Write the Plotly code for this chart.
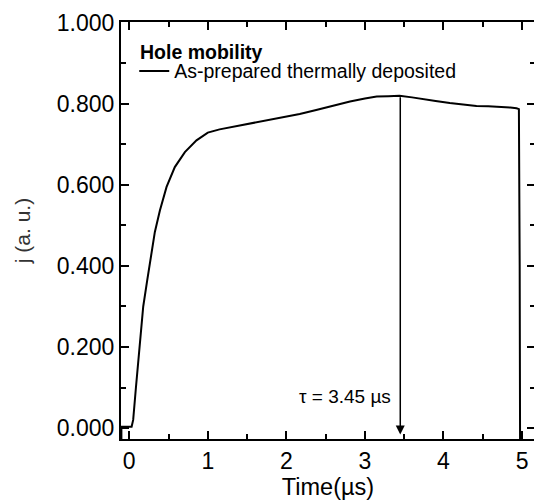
import plotly.graph_objects as go

# Data
time_us = [-0.10, -0.10, 0.03, 0.05, 0.085, 0.127, 0.178, 0.229, 0.284, 0.326, 0.39, 0.475,
           0.58, 0.708, 0.856, 1.00, 1.15, 1.36, 1.535, 1.66, 1.96, 2.17, 2.38, 2.60,
           2.81, 3.00, 3.15, 3.30, 3.44, 3.60, 3.74, 3.90, 4.08, 4.25, 4.42, 4.57,
           4.72, 4.85, 4.93, 4.96, 4.97, 4.975]
j_au = [-0.027, 0.003, 0.003, 0.02, 0.10, 0.20, 0.30, 0.365, 0.43, 0.484, 0.537, 0.595,
        0.644, 0.681, 0.710, 0.729, 0.737, 0.745, 0.752, 0.756, 0.767, 0.775, 0.785, 0.796,
        0.806, 0.813, 0.818, 0.819, 0.820, 0.816, 0.811, 0.807, 0.802, 0.798, 0.795, 0.794,
        0.793, 0.791, 0.789, 0.787, 0.40, -0.027]

series_name = "As-prepared thermally deposited"
legend_title = "Hole mobility"
tau_value = 3.45
tau_label = "τ = 3.45 µs"
x_ticks = [0, 1, 2, 3, 4, 5]
y_ticks = [0.0, 0.2, 0.4, 0.6, 0.8, 1.0]

FONT = "Liberation Sans, Arial, sans-serif"

fig = go.Figure()
fig.add_trace(go.Scatter(x=time_us, y=j_au, mode="lines", name=series_name,
                         line=dict(color="black", width=2)))

# tau arrow
fig.add_annotation(x=tau_value, y=-0.016, ax=tau_value, ay=0.820, xref="x", yref="y",
                   axref="x", ayref="y", showarrow=True, arrowhead=2, arrowsize=1.2,
                   arrowwidth=1.5, arrowcolor="black", text="")
fig.add_annotation(x=3.36, y=0.077, xref="x", yref="y", text=tau_label, showarrow=False,
                   xanchor="right", yanchor="middle", font=dict(size=19, color="black", family=FONT))

# legend title
fig.add_annotation(x=0.041, y=0.928, xref="paper", yref="paper", text="<b>" + legend_title + "</b>",
                   showarrow=False, xanchor="left", yanchor="middle",
                   font=dict(size=19.5, color="black", family=FONT))

axis_common = dict(showline=True, linecolor="black", linewidth=2, mirror="ticks",
                   ticks="inside", ticklen=8, tickwidth=1.5, tickcolor="black",
                   showgrid=False, zeroline=False, automargin=False,
                   tickfont=dict(size=23, color="black", family=FONT))

fig.update_xaxes(range=[-0.105, 5.165], tickvals=x_ticks,
                 minor=dict(dtick=0.5, ticks="inside", ticklen=5, tickwidth=1.5, tickcolor="black"),
                 title=dict(text="Time(µs)", font=dict(size=23.5, color="black", family=FONT), standoff=0),
                 **axis_common)
fig.update_yaxes(range=[-0.027, 1.002], tickvals=y_ticks, tickformat=".3f",
                 minor=dict(dtick=0.1, ticks="inside", ticklen=5, tickwidth=1.5, tickcolor="black"),
                 title=dict(text="j (a. u.)", font=dict(size=21, color="#333333", family=FONT), standoff=20),
                 **axis_common)

# page body has an 8px margin, so the figure is sized/offset to compensate
fig.update_layout(
    width=534, height=494,
    margin=dict(l=113, r=7, t=14, b=63),
    plot_bgcolor="white", paper_bgcolor="white",
    showlegend=True,
    legend=dict(x=0.032, y=0.882, xanchor="left", yanchor="middle",
                bgcolor="rgba(0,0,0,0)", borderwidth=0,
                font=dict(size=19.5, color="black", family=FONT),
                tracegroupgap=0, itemwidth=30),
    font=dict(family=FONT, color="black"),
)

fig.write_html("out.html")
